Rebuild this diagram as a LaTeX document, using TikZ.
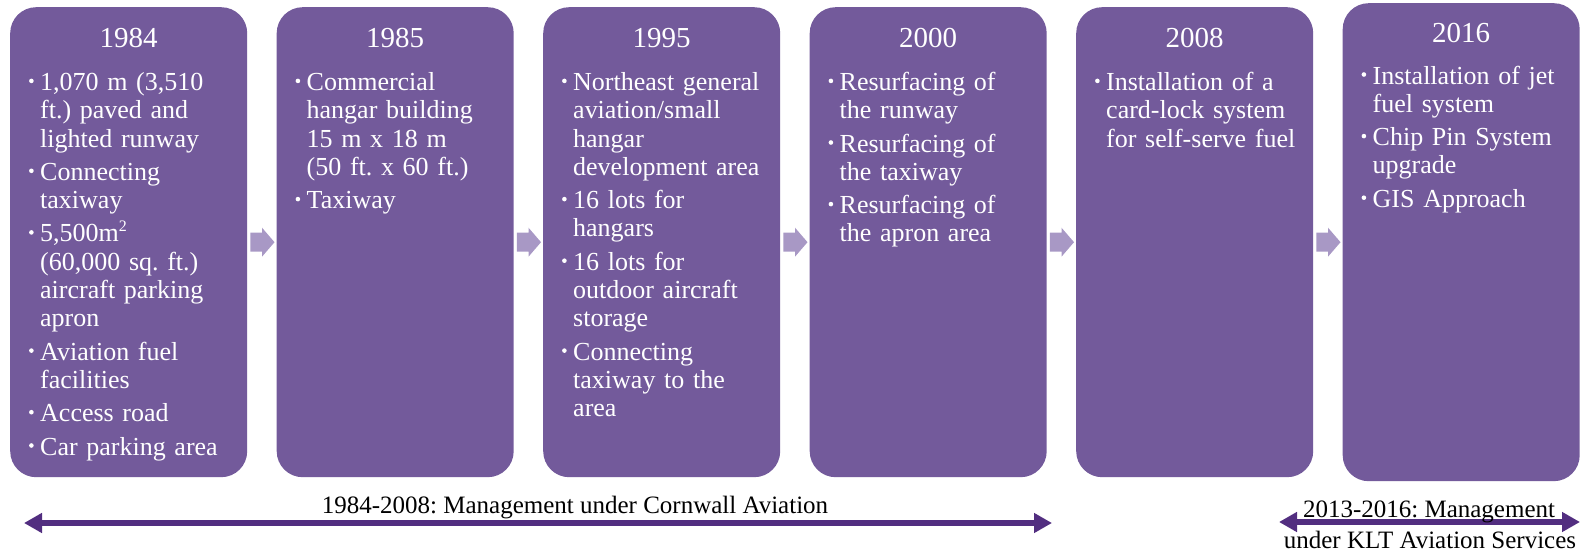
\documentclass[tikz,border=0pt]{standalone}
\usepackage{fontspec}
\setmainfont{Liberation Serif}
\usetikzlibrary{calc,arrows.meta}
\frenchspacing

\definecolor{boxfill}{RGB}{115,90,155}
\definecolor{chevfill}{RGB}{168,152,197}
\definecolor{spancol}{RGB}{82,46,128}

\newcommand\bodyfont{\fontsize{26}{28.3}\selectfont}
% small round bullet drawn as a filled dot
\newcommand\bul{\tikz[baseline=0pt,x=1pt,y=1pt]{\useasboundingbox (0,0) rectangle (4.4,11.7);\fill[white] (2.2,9.5) circle[radius=2.3pt];}}
% list entries with a hanging indent: the first one opens the paragraph list
\newcommand\firstitm{\parskip=5pt\hangindent=11pt\hangafter=1\makebox[11pt][l]{\bul}\strut}
\newcommand\itm{\par\hangindent=11pt\hangafter=1\noindent\makebox[11pt][l]{\bul}\strut}
\newcommand\sqr{\raisebox{0.4em}{\fontsize{16}{16}\selectfont 2}}

\tikzset{
  yearbox/.style={fill=boxfill, rounded corners=26pt, inner sep=0pt,
    minimum width=237pt, minimum height=470pt, anchor=north west},
  yeartitle/.style={text=white, font=\fontsize{29}{31}\selectfont, anchor=base, inner sep=0pt},
  yearlist/.style={text=white, font=\bodyfont, anchor=north west, inner sep=0pt,
    text width=225pt, align=left},
  chev/.style={fill=chevfill},
  spanarrow/.style={draw=spancol, line width=6pt,
    {Triangle[length=18pt,width=19pt]}-{Triangle[length=18pt,width=19pt]}},
  spanlabel/.style={font=\fontsize{25}{28}\selectfont, anchor=base, inner sep=0pt}
}

\begin{document}
\begin{tikzpicture}[x=1pt,y=-1pt]
\useasboundingbox (0,0) rectangle (1583,553);

% year boxes
\node[yearbox] (b1) at (10,7) {};
\node[yearbox] (b2) at (276.5,7) {};
\node[yearbox] (b3) at (543,7) {};
\node[yearbox] (b4) at (809.5,7) {};
\node[yearbox] (b5) at (1076,7) {};
\node[yearbox, minimum height=478pt] (b6) at (1342.5,3) {};

% chevrons between consecutive boxes
\foreach \a/\b in {b1/b2,b2/b3,b3/b4,b4/b5,b5/b6}{
  \fill[chev] ($(\a.east)+(3,-9.5)$) -- ($(\b.west)+(-14.5,-9.5)$)
    -- ($(\b.west)+(-14.5,-14.5)$) -- ($(\b.west)+(-2,0)$)
    -- ($(\b.west)+(-14.5,14.5)$) -- ($(\b.west)+(-14.5,9.5)$)
    -- ($(\a.east)+(3,9.5)$) -- cycle;
}

% years
\node[yeartitle] (t1) at ($(b1.north)+(0,41)$) {1984};
\node[yeartitle] (t2) at ($(b2.north)+(0,41)$) {1985};
\node[yeartitle] (t3) at ($(b3.north)+(0,41)$) {1995};
\node[yeartitle] (t4) at ($(b4.north)+(0,41)$) {2000};
\node[yeartitle] (t5) at ($(b5.north)+(0,41)$) {2008};
\node[yeartitle] (t6) at ($(b6.north)+(0,40)$) {2016};

% item lists
\node[yearlist] (l1) at ($(b1.north west)+(19,63.4)$) {%
\firstitm 1,070 m (3,510\newline ft.) paved and\newline lighted runway
\itm Connecting\newline taxiway
\itm 5,500m\sqr\newline (60,000 sq. ft.)\newline aircraft parking\newline apron
\itm Aviation fuel\newline facilities
\itm Access road
\itm Car parking area\par};

\node[yearlist] (l2) at ($(b2.north west)+(19,63.4)$) {%
\firstitm Commercial\newline hangar building\newline 15 m x 18 m\newline (50 ft. x 60 ft.)
\itm Taxiway\par};

\node[yearlist] (l3) at ($(b3.north west)+(19,63.4)$) {%
\firstitm Northeast general\newline aviation/small\newline hangar\newline development area
\itm 16 lots for\newline hangars
\itm 16 lots for\newline outdoor aircraft\newline storage
\itm Connecting\newline taxiway to the\newline area\par};

\node[yearlist] (l4) at ($(b4.north west)+(19,63.4)$) {%
\firstitm Resurfacing of\newline the runway
\itm Resurfacing of\newline the taxiway
\itm Resurfacing of\newline the apron area\par};

\node[yearlist] (l5) at ($(b5.north west)+(19,63.4)$) {%
\firstitm Installation of a\newline card-lock system\newline for self-serve fuel\par};

\node[yearlist] (l6) at ($(b6.north west)+(19,61)$) {%
\firstitm Installation of jet\newline fuel system
\itm Chip Pin System\newline upgrade
\itm GIS Approach\par};

% management periods
\coordinate (s1l) at (24,523);
\coordinate (s1r) at (1052,523);
\draw[spanarrow] (s1l) -- (s1r);
\node[spanlabel] (m1) at (575,513) {1984-2008: Management under Cornwall Aviation};

\coordinate (s2l) at (1279,522);
\coordinate (s2r) at (1580,522);
\draw[spanarrow] (s2l) -- (s2r);
\node[spanlabel] (m2a) at (1429,517) {2013-2016: Management};
\node[spanlabel] (m2b) at (1430,548) {under KLT Aviation Services};
\end{tikzpicture}
\end{document}
